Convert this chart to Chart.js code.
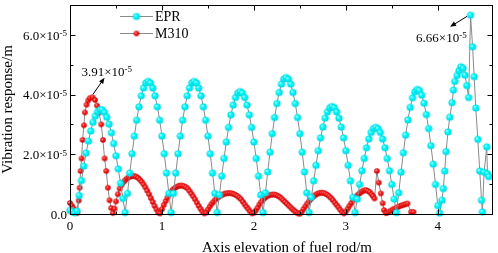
<!DOCTYPE html>
<html>
<head>
<meta charset="utf-8">
<script src="https://cdn.jsdelivr.net/npm/chart.js@4.4.1/dist/chart.umd.min.js"></script>
<style>
  html, body { margin: 0; padding: 0; background: #fff; }
</style>
</head>
<body>
<canvas id="myChart" width="498" height="253"></canvas>
<script>
// vibration response in units of 1e-5 m, elevation in m
const eprX = [
  0, 0.025, 0.05,
  0.075, 0.1, 0.125, 0.15, 0.175, 0.2, 0.225, 0.25, 0.275, 0.3, 0.325, 0.35, 0.375, 0.4, 0.425, 0.45, 0.475, 0.5, 0.525, 0.55, 0.575, 0.6,
  0.625, 0.65, 0.675, 0.7, 0.725, 0.75, 0.775, 0.8, 0.825, 0.85, 0.875, 0.9, 0.925, 0.95, 0.975, 1.0, 1.025, 1.05, 1.075, 1.1,
  1.125, 1.15, 1.175, 1.2, 1.225, 1.25, 1.275, 1.3, 1.325, 1.35, 1.375, 1.4, 1.425, 1.45, 1.475, 1.5, 1.525, 1.55, 1.575, 1.6,
  1.625, 1.65, 1.675, 1.7, 1.725, 1.75, 1.775, 1.8, 1.825, 1.85, 1.875, 1.9, 1.925, 1.95, 1.975, 2.0, 2.025, 2.05, 2.075, 2.1,
  2.125, 2.15, 2.175, 2.2, 2.225, 2.25, 2.275, 2.3, 2.325, 2.35, 2.375, 2.4, 2.425, 2.45, 2.475, 2.5, 2.525, 2.55, 2.575, 2.6,
  2.625, 2.65, 2.675, 2.7, 2.725, 2.75, 2.775, 2.8, 2.825, 2.85, 2.875, 2.9, 2.925, 2.95, 2.975, 3.0, 3.025, 3.05, 3.075, 3.1,
  3.125, 3.15, 3.175, 3.2, 3.225, 3.25, 3.275, 3.3, 3.325, 3.35, 3.375, 3.4, 3.425, 3.45, 3.475, 3.5, 3.525, 3.55,
  3.575, 3.6, 3.625, 3.65, 3.675, 3.7, 3.725, 3.75, 3.775, 3.8, 3.825, 3.85, 3.875, 3.9, 3.925, 3.95, 3.975, 4.0, 4.02,
  4.045, 4.06, 4.075, 4.09, 4.11, 4.13, 4.155, 4.17, 4.185, 4.21, 4.23, 4.25, 4.275, 4.295, 4.315, 4.335,
  4.356, 4.378, 4.395, 4.413, 4.435, 4.456, 4.475, 4.485, 4.503, 4.532, 4.54, 4.555
];
const eprY = [
  0.12, 0.08, 0.04,
  0.10, 0.62, 1.12, 1.60, 2.04, 2.44, 2.78, 3.07, 3.28, 3.43, 3.49, 3.49, 3.40, 3.24, 3.01, 2.72, 2.36, 1.95, 1.51, 1.03, 0.52, 0.05,
  0.69, 1.37, 2.02, 2.61, 3.14, 3.59, 3.96, 4.22, 4.39, 4.44, 4.39, 4.22, 3.96, 3.59, 3.14, 2.61, 2.02, 1.37, 0.69, 0.05,
  0.69, 1.37, 2.02, 2.61, 3.14, 3.59, 3.96, 4.22, 4.39, 4.44, 4.39, 4.22, 3.96, 3.59, 3.14, 2.61, 2.02, 1.37, 0.69, 0.05,
  0.64, 1.27, 1.86, 2.41, 2.90, 3.32, 3.65, 3.90, 4.05, 4.10, 4.05, 3.90, 3.65, 3.32, 2.90, 2.41, 1.86, 1.27, 0.64, 0.05,
  0.71, 1.41, 2.07, 2.69, 3.23, 3.70, 4.07, 4.35, 4.52, 4.57, 4.52, 4.35, 4.07, 3.70, 3.23, 2.69, 2.07, 1.41, 0.71, 0.05,
  0.56, 1.11, 1.63, 2.12, 2.55, 2.91, 3.21, 3.42, 3.56, 3.60, 3.56, 3.42, 3.21, 2.91, 2.55, 2.12, 1.63, 1.11, 0.56, 0.05,
  0.50, 0.99, 1.45, 1.86, 2.22, 2.51, 2.73, 2.86, 2.90, 2.86, 2.73, 2.51, 2.22, 1.86, 1.45, 0.99, 0.50, 0.05,
  0.71, 1.40, 2.05, 2.64, 3.15, 3.57, 3.89, 4.09, 4.17, 4.14, 3.98, 3.71, 3.33, 2.86, 2.29, 1.67, 0.99, 0.28, 0.03,
  0.46, 0.85, 1.44, 2.09, 2.75, 3.24, 3.73, 4.15, 4.44, 4.64, 4.80, 4.93, 4.88, 4.65, 4.30, 3.90,
  6.66, 5.60, 4.60, 3.55, 2.50, 1.44, 0.46, 0.07, 1.40, 2.25, 1.35, 1.25
];

const m310X = [
  0, 0.02, 0.04, 0.06, 0.08,
  0.095, 0.105, 0.115, 0.126, 0.137, 0.151, 0.162, 0.18, 0.198, 0.216, 0.245, 0.272, 0.294, 0.316, 0.34, 0.358, 0.376, 0.394, 0.412, 0.43, 0.448, 0.466,
  0.484, 0.5, 0.52, 0.54, 0.56, 0.58, 0.6, 0.62, 0.64, 0.66, 0.68, 0.7, 0.72, 0.74, 0.76, 0.78, 0.8, 0.82, 0.84, 0.86, 0.88, 0.9, 0.92, 0.94, 0.96, 0.98,
  1.0, 1.02, 1.04, 1.06, 1.08, 1.1, 1.12, 1.14, 1.16, 1.18, 1.2, 1.22, 1.24, 1.26, 1.28, 1.3, 1.32, 1.34, 1.36, 1.38, 1.4, 1.42, 1.44, 1.46,
  1.48, 1.5, 1.52, 1.54, 1.56, 1.58, 1.6, 1.62, 1.64, 1.66, 1.68, 1.7, 1.72, 1.74, 1.76, 1.78, 1.8, 1.82, 1.84, 1.86, 1.88, 1.9, 1.92, 1.94, 1.96, 1.98,
  2.0, 2.02, 2.04, 2.06, 2.08, 2.1, 2.12, 2.14, 2.16, 2.18, 2.2, 2.22, 2.24, 2.26, 2.28, 2.3, 2.32, 2.34, 2.36, 2.38, 2.4, 2.42, 2.44, 2.46, 2.48, 2.5,
  2.52, 2.54, 2.56, 2.58, 2.6, 2.62, 2.64, 2.66, 2.68, 2.7, 2.72, 2.74, 2.76, 2.78, 2.8, 2.82, 2.84, 2.86, 2.88, 2.9, 2.92, 2.94, 2.96, 2.98,
  3.0, 3.02, 3.04, 3.06, 3.08, 3.1, 3.12, 3.14, 3.16, 3.18, 3.2, 3.22, 3.24, 3.26, 3.28, 3.295, 3.312,
  3.337, 3.358, 3.38, 3.4, 3.415, 3.434,
  3.45, 3.47, 3.49, 3.51, 3.53, 3.55, 3.57, 3.59, 3.61, 3.63, 3.65, 3.67, 3.71, 3.735
];
const m310Y = [
  0.37, 0.28, 0.19, 0.09, 0.03,
  0.45, 0.88, 1.44, 1.86, 2.48, 2.97, 3.40, 3.66, 3.80, 3.88, 3.91, 3.82, 3.63, 3.40, 3.00, 2.48, 1.86, 1.44, 0.88, 0.46, 0.20, 0.03,
  0.18, 0.42, 0.66, 0.85, 0.97, 1.06, 1.13, 1.19, 1.23, 1.26, 1.27, 1.27, 1.25, 1.21, 1.15, 1.08, 0.99, 0.89, 0.78, 0.66, 0.53, 0.40, 0.27, 0.15, 0.05, 0.02,
  0.16, 0.30, 0.43, 0.55, 0.66, 0.75, 0.82, 0.87, 0.91, 0.94, 0.95, 0.95, 0.93, 0.90, 0.85, 0.77, 0.68, 0.59, 0.49, 0.38, 0.27, 0.17, 0.08, 0.02,
  0.05, 0.15, 0.25, 0.34, 0.41, 0.48, 0.53, 0.58, 0.62, 0.65, 0.68, 0.69, 0.70, 0.70, 0.69, 0.67, 0.64, 0.60, 0.55, 0.49, 0.41, 0.32, 0.24, 0.16, 0.08, 0.02,
  0.04, 0.12, 0.21, 0.32, 0.41, 0.48, 0.54, 0.59, 0.62, 0.64, 0.65, 0.65, 0.64, 0.61, 0.57, 0.52, 0.46, 0.40, 0.34, 0.28, 0.22, 0.16, 0.11, 0.06, 0.02, 0.01,
  0.07, 0.17, 0.26, 0.35, 0.43, 0.50, 0.57, 0.62, 0.66, 0.69, 0.71, 0.71, 0.70, 0.68, 0.64, 0.59, 0.53, 0.46, 0.38, 0.30, 0.22, 0.14, 0.06, 0.02,
  0.08, 0.18, 0.28, 0.37, 0.46, 0.54, 0.61, 0.67, 0.72, 0.76, 0.79, 0.80, 0.77, 0.73, 0.66, 0.60, 0.52,
  1.44, 1.05, 0.69, 0.36, 0.13, 0.03,
  0.04, 0.08, 0.11, 0.15, 0.18, 0.21, 0.24, 0.27, 0.29, 0.31, 0.33, 0.35, 0.07, 0.07
];

const xTickValues = [0, 1, 2, 3, 4];
const xTickLabels = ['0', '1', '2', '3', '4'];
const yTickValues = [0, 2, 4, 6];
const yTickLabels = ['0.0', '2.0×10', '4.0×10', '6.0×10'];
const yTickExps = ['', '-5', '-5', '-5'];

// peak callouts
const notes = [
  { x: 0.245, y: 3.91, text: '3.91×10', exp: '-5', tx: -11, ty: -21, tail: [0.5, -3], head: [12, -19.5] },
  { x: 4.356, y: 6.66, text: '6.66×10', exp: '-5', tx: -54.5, ty: 27, tail: [-3.5, 1.2], head: [-20.5, 11.7] }
];

const SERIF = '"Liberation Serif", "Times New Roman", serif';

function ball(r, light, mid, dark) {
  const c = document.createElement('canvas');
  const s = Math.ceil(r * 2) + 2;
  c.width = s;
  c.height = s;
  const g = c.getContext('2d');
  const m = s / 2;
  const grad = g.createRadialGradient(m - r * 0.35, m - r * 0.35, 0, m, m, r);
  grad.addColorStop(0, light);
  grad.addColorStop(0.4, mid);
  grad.addColorStop(1, dark);
  g.fillStyle = grad;
  g.beginPath();
  g.arc(m, m, r, 0, Math.PI * 2);
  g.fill();
  return c;
}

const cyanBall = ball(3.6, '#ffffff', '#00ffff', '#00d2e0');
const redBall = ball(2.8, '#ffe0e0', '#ff2020', '#c40000');

function zip(xs, ys) {
  return xs.map((v, i) => ({ x: v, y: ys[i] }));
}

function drawArrow(ctx, x0, y0, x1, y1) {
  const dx = x1 - x0, dy = y1 - y0;
  const len = Math.hypot(dx, dy);
  const ux = dx / len, uy = dy / len;
  ctx.beginPath();
  ctx.moveTo(x0, y0);
  ctx.lineTo(x1 - ux * 4, y1 - uy * 4);
  ctx.stroke();
  ctx.beginPath();
  ctx.moveTo(x1, y1);
  ctx.lineTo(x1 - ux * 6 - uy * 2.5, y1 - uy * 6 + ux * 2.5);
  ctx.lineTo(x1 - ux * 6 + uy * 2.5, y1 - uy * 6 - ux * 2.5);
  ctx.closePath();
  ctx.fill();
}

const originAxes = {
  id: 'originAxes',
  afterDraw(chart) {
    const { ctx, chartArea: a, scales: { x, y } } = chart;
    const L = Math.round(a.left) + 0.5, R = Math.round(a.right) - 0.5;
    const T = Math.round(a.top) + 0.5, B = Math.round(a.bottom) + 0.5;
    ctx.save();
    ctx.strokeStyle = '#000';
    ctx.fillStyle = '#000';
    ctx.lineWidth = 1;
    ctx.strokeRect(L, T, R - L, B - T);

    // inward ticks on all four sides
    ctx.beginPath();
    y.ticks.forEach(t => {
      const py = Math.round(y.getPixelForValue(t.value)) + 0.5;
      const len = t.value % 2 === 0 ? 5 : 3;
      ctx.moveTo(L, py); ctx.lineTo(L + len, py);
      ctx.moveTo(R, py); ctx.lineTo(R - len, py);
    });
    x.ticks.forEach(t => {
      if (Math.abs(t.value * 2 - Math.round(t.value * 2)) > 1e-6) return;
      const px = Math.round(x.getPixelForValue(t.value)) + 0.5;
      const len = Number.isInteger(Math.round(t.value * 1e6) / 1e6) ? 5 : 3;
      ctx.moveTo(px, B); ctx.lineTo(px, B - len);
      ctx.moveTo(px, T); ctx.lineTo(px, T + len);
    });
    ctx.stroke();

    // tick labels
    ctx.textBaseline = 'alphabetic';
    ctx.textAlign = 'center';
    ctx.font = '13px ' + SERIF;
    xTickValues.forEach((v, i) => {
      ctx.fillText(xTickLabels[i], x.getPixelForValue(v), B + 15);
    });
    yTickValues.forEach((v, i) => {
      const py = y.getPixelForValue(v);
      let right = a.left - 3;
      ctx.textAlign = 'right';
      if (yTickExps[i]) {
        ctx.font = '9px ' + SERIF;
        ctx.fillText(yTickExps[i], right, py + 1.5);
        right -= ctx.measureText(yTickExps[i]).width;
      }
      ctx.font = '13px ' + SERIF;
      ctx.fillText(yTickLabels[i], right, py + 4.7);
    });

    // axis titles
    ctx.font = '15px ' + SERIF;
    ctx.textAlign = 'center';
    ctx.fillText('Axis elevation of fuel rod/m', 287, 252);
    ctx.save();
    ctx.translate(12, (a.top + a.bottom) / 2);
    ctx.rotate(-Math.PI / 2);
    ctx.fillText('Vibration response/m', 0, 0);
    ctx.restore();

    // legend
    chart.data.datasets.forEach((ds, i) => {
      const ly = 16 + i * 17;
      ctx.strokeStyle = ds.borderColor;
      ctx.beginPath();
      ctx.moveTo(120, ly + 0.5);
      ctx.lineTo(153, ly + 0.5);
      ctx.stroke();
      const img = ds.pointStyle;
      ctx.drawImage(img, 136.5 - img.width / 2, ly + 0.5 - img.height / 2);
      ctx.font = '14px ' + SERIF;
      ctx.textAlign = 'left';
      ctx.textBaseline = 'middle';
      ctx.fillText(ds.label, 155, ly + 1);
    });

    // callouts
    ctx.strokeStyle = '#000';
    ctx.textBaseline = 'alphabetic';
    ctx.textAlign = 'left';
    notes.forEach(n => {
      const px = x.getPixelForValue(n.x), py = y.getPixelForValue(n.y);
      drawArrow(ctx, px + n.tail[0], py + n.tail[1], px + n.head[0], py + n.head[1]);
      ctx.font = '13px ' + SERIF;
      ctx.fillText(n.text, px + n.tx, py + n.ty);
      const w = ctx.measureText(n.text).width;
      ctx.font = '9px ' + SERIF;
      ctx.fillText(n.exp, px + n.tx + w, py + n.ty - 4);
    });
    ctx.restore();
  }
};

const ctx = document.getElementById('myChart').getContext('2d');
new Chart(ctx, {
  type: 'scatter',
  data: {
    datasets: [
      {
        label: 'EPR',
        data: zip(eprX, eprY),
        showLine: true,
        borderColor: '#8a8a8a',
        borderWidth: 1,
        pointStyle: cyanBall,
        pointRadius: 3,
        clip: false
      },
      {
        label: 'M310',
        data: zip(m310X, m310Y),
        showLine: true,
        borderColor: '#8a8a8a',
        borderWidth: 1,
        pointStyle: redBall,
        pointRadius: 3,
        clip: false
      }
    ]
  },
  options: {
    responsive: false,
    animation: false,
    events: [],
    layout: { padding: { top: 1, right: 1, left: 0, bottom: 0 } },
    plugins: { legend: { display: false }, tooltip: { enabled: false } },
    scales: {
      x: {
        type: 'linear',
        min: 0,
        max: 4.6,
        ticks: { display: false, stepSize: 0.5 },
        grid: { display: false, drawTicks: false },
        border: { display: false },
        afterFit(s) { s.height = 39; }
      },
      y: {
        min: 0,
        max: 7,
        ticks: { display: false, stepSize: 1 },
        grid: { display: false, drawTicks: false },
        border: { display: false },
        afterFit(s) { s.width = 70; }
      }
    }
  },
  plugins: [originAxes]
});
</script>
</body>
</html>
